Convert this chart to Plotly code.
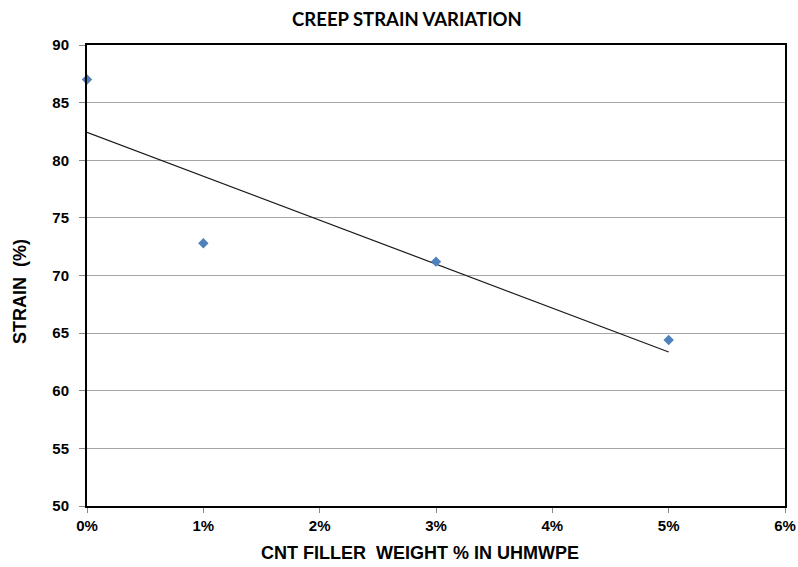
import numpy as np
import plotly.graph_objects as go

# CNT filler weight (%) and measured creep strain (%)
filler_pct = [0, 1, 3, 5]
strain_pct = [87.0, 72.8, 71.2, 64.4]

x_ticks = [0, 1, 2, 3, 4, 5, 6]
x_labels = ["0%", "1%", "2%", "3%", "4%", "5%", "6%"]
y_ticks = [50, 55, 60, 65, 70, 75, 80, 85, 90]

# linear trendline as in the spreadsheet chart
slope, intercept = np.polyfit(filler_pct, strain_pct, 1)
trend_x = [min(filler_pct), max(filler_pct)]
trend_y = [slope * v + intercept for v in trend_x]

font_fam = "Liberation Sans, Arial, sans-serif"

fig = go.Figure()
fig.add_trace(go.Scatter(
    x=trend_x, y=trend_y, mode="lines",
    line=dict(color="#1a1a1a", width=1.2), showlegend=False,
))
fig.add_trace(go.Scatter(
    x=filler_pct, y=strain_pct, mode="markers",
    marker=dict(symbol="diamond", size=8, color="#4F81BD"),
    cliponaxis=False, showlegend=False,
))

fig.update_layout(
    width=798, height=567,
    margin=dict(l=87, r=13, t=45, b=61),
    paper_bgcolor="white", plot_bgcolor="white",
    font=dict(family=font_fam, color="#000000", size=15),
    title=dict(text="<b>CREEP STRAIN VARIATION</b>", x=0.51, xanchor="center",
               y=0.966, yanchor="middle",
               font=dict(size=18.5, family="Lato, Carlito, Calibri, sans-serif")),
    xaxis=dict(
        range=[0, 6], tickmode="array", tickvals=x_ticks, ticktext=x_labels,
        showgrid=False, zeroline=False, automargin=False,
        showline=True, linecolor="#000000", linewidth=2, mirror=True,
        ticks="outside", ticklen=5, tickcolor="#888888",
        tickfont=dict(size=15, family=font_fam, weight="bold"),
    ),
    yaxis=dict(
        range=[50, 90], tickvals=y_ticks,
        showgrid=True, gridcolor="#a6a6a6", gridwidth=1, zeroline=False,
        automargin=False,
        showline=True, linecolor="#000000", linewidth=2, mirror=True,
        ticks="outside", ticklen=6, tickcolor="#888888", ticklabelstandoff=7,
        tickfont=dict(size=15, family=font_fam, weight="bold"),
    ),
)

# axis titles as annotations so they sit where the original chart put them
fig.add_annotation(text="<b>CNT FILLER  WEIGHT % IN UHMWPE</b>",
                   xref="paper", yref="paper", x=0.477, y=0, yshift=-47,
                   xanchor="center", yanchor="middle", showarrow=False,
                   font=dict(size=18, family=font_fam))
fig.add_annotation(text="<b>STRAIN  (%)</b>", textangle=-90,
                   xref="paper", yref="paper", x=0, xshift=-67, y=0.464,
                   xanchor="center", yanchor="middle", showarrow=False,
                   font=dict(size=18, family=font_fam))

# drop the default page margin so the figure sits at the window's corner
fig.write_html("out.html", config={"displayModeBar": False},
               post_script="document.body.style.margin='0';")
